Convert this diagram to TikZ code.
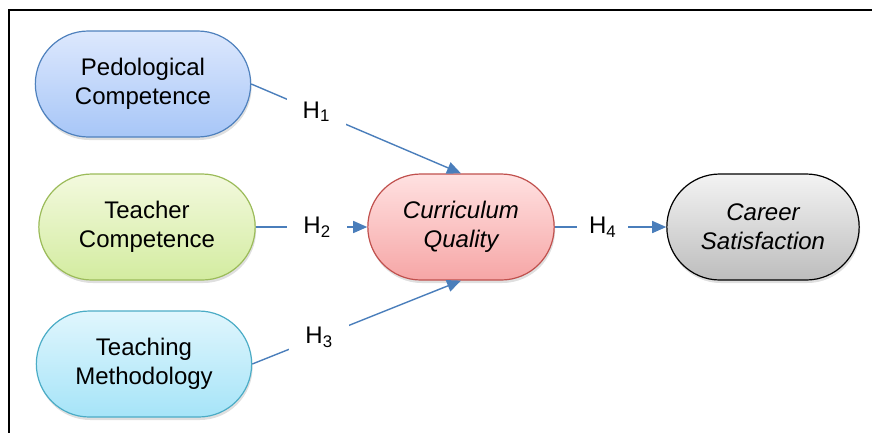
\documentclass[tikz,border=0pt]{standalone}
\usepackage{fontspec}
\setmainfont{Liberation Sans}
\usetikzlibrary{arrows.meta, positioning, shapes.misc, shadows}

\definecolor{pedline}{HTML}{4F81BD}
\definecolor{pedtop}{HTML}{DDE8FD}
\definecolor{pedbot}{HTML}{A7C6F7}
\definecolor{tcline}{HTML}{9BBB59}
\definecolor{tctop}{HTML}{F3F9DE}
\definecolor{tcbot}{HTML}{D3ECA0}
\definecolor{tmline}{HTML}{4BACC6}
\definecolor{tmtop}{HTML}{E0F6FD}
\definecolor{tmbot}{HTML}{A6E4F8}
\definecolor{cqline}{HTML}{C0504D}
\definecolor{cqtop}{HTML}{FFE1E1}
\definecolor{cqbot}{HTML}{F6A6A6}
\definecolor{cstop}{HTML}{F3F3F3}
\definecolor{csbot}{HTML}{BDBDBD}
\definecolor{linkblue}{HTML}{4A7EBB}

\begin{document}
\begin{tikzpicture}[
    x=1pt, y=-1pt,
    every node/.style={font=\fontsize{24}{29}\selectfont},
    construct/.style={rounded rectangle, draw, line width=1.2pt, align=center,
        minimum height=106pt, drop shadow={opacity=0.25, shadow xshift=1pt, shadow yshift=-3pt}},
    hlabel/.style={fill=white, inner xsep=16pt, inner ysep=4pt},
    link/.style={draw=linkblue, line width=1.4pt, -{Triangle[length=14pt, width=12pt]}}
]
\clip (0,0) rectangle (872,432);

% Frame
\draw[line width=2pt] (9,10) rectangle (900,460);

% Constructs
\node[construct, minimum width=222pt, draw=pedline, top color=pedtop, bottom color=pedbot]
    (ped) at (143,84) {Pedological\\Competence};
\node[construct, minimum width=223pt, draw=tcline, top color=tctop, bottom color=tcbot]
    (tc) at (147,227) {Teacher\\Competence};
\node[construct, minimum width=222pt, draw=tmline, top color=tmtop, bottom color=tmbot]
    (tm) at (144,364) {Teaching\\Methodology};
\node[construct, minimum width=193pt, draw=cqline, top color=cqtop, bottom color=cqbot]
    (cq) at (461,227) {\itshape Curriculum\\\itshape Quality};
\node[construct, minimum width=199pt, draw=black, top color=cstop, bottom color=csbot]
    (cs) at (763,227) {\itshape Career\\\itshape Satisfaction};

% Hypotheses
\path[link] (ped.east) -- node[hlabel, pos=0.31] {H\textsubscript{1}} (cq.north);
\path[link] (tc.east) -- node[hlabel, pos=0.55] {H\textsubscript{2}} (cq.west);
\path[link] (tm.east) -- node[hlabel, pos=0.32] {H\textsubscript{3}} (cq.south);
\path[link] (cq.east) -- node[hlabel, pos=0.43, inner xsep=12pt] {H\textsubscript{4}} (cs.west);

\end{tikzpicture}
\end{document}
